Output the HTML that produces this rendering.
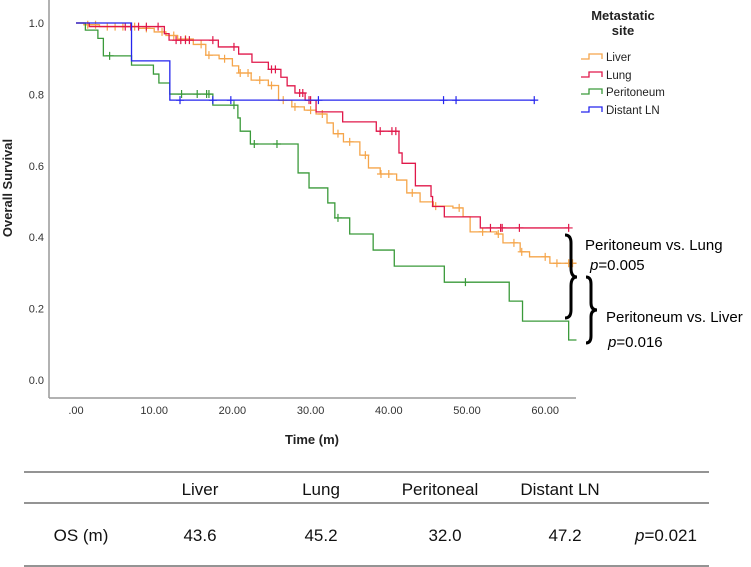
<!DOCTYPE html>
<html><head><meta charset="utf-8"><style>
body{margin:0;background:#fff;width:751px;height:567px;overflow:hidden;font-family:"Liberation Sans",sans-serif}
svg{position:absolute;left:0;top:0}
</style></head><body>
<svg id="chart" width="751" height="567">
<g id="axes"></g>
<g id="series"></g>
<g font-size="11.5" fill="#222">
<text x="623" y="20" text-anchor="middle" font-weight="bold" font-size="13">Metastatic</text>
<text x="623" y="35" text-anchor="middle" font-weight="bold" font-size="13">site</text>
<g><path d="M581 59H589V54H602V59" stroke="#f5a54a" fill="none" stroke-width="1.3"/><text x="606" y="61">Liver</text></g>
<g><path d="M581 77H589V72H602V77" stroke="#e0184a" fill="none" stroke-width="1.3"/><text x="606" y="79">Lung</text></g>
<g><path d="M581 94H589V89H602V94" stroke="#3a9a3a" fill="none" stroke-width="1.3"/><text x="606" y="96">Peritoneum</text></g>
<g><path d="M581 112H589V107H602V112" stroke="#2525ee" fill="none" stroke-width="1.3"/><text x="606" y="114">Distant LN</text></g>
</g>
<g fill="#000">
<path d="M565 235 Q571 235 571 243 L571 268 Q571 277 577 277 Q571 277 571 286 L571 310 Q571 318 565 318" fill="none" stroke="#000" stroke-width="3"/>
<text x="585" y="250" font-size="15">Peritoneum vs. Lung</text>
<text x="590" y="270" font-size="15"><tspan font-style="italic">p</tspan>=0.005</text>
<path d="M586 277 Q591 277 591 284 L591 303 Q591 310 597 310 Q591 310 591 317 L591 336 Q591 343 586 343" fill="none" stroke="#000" stroke-width="3"/>
<text x="606" y="322" font-size="15">Peritoneum vs. Liver</text>
<text x="608" y="347" font-size="15"><tspan font-style="italic">p</tspan>=0.016</text>
</g>
<g font-size="17" fill="#111" text-anchor="middle">
<line x1="24" y1="472" x2="709" y2="472" stroke="#555" stroke-width="1.3"/>
<line x1="24" y1="503" x2="709" y2="503" stroke="#555" stroke-width="1.3"/>
<line x1="24" y1="566" x2="709" y2="566" stroke="#555" stroke-width="1.3"/>
<text x="200" y="495">Liver</text>
<text x="321" y="495">Lung</text>
<text x="440" y="495">Peritoneal</text>
<text x="560" y="495">Distant LN</text>
<text x="81" y="541">OS (m)</text>
<text x="200" y="541">43.6</text>
<text x="321" y="541">45.2</text>
<text x="445" y="541">32.0</text>
<text x="565" y="541">47.2</text>
<text x="666" y="541"><tspan font-style="italic">p</tspan>=0.021</text>
</g>
</svg>
<script>
const xTicks=[0,10,20,30,40,50,60];
const xTickLabels=[".00","10.00","20.00","30.00","40.00","50.00","60.00"];
const yTicks=[0,0.2,0.4,0.6,0.8,1.0];
const yTickLabels=["0.0","0.2","0.4","0.6","0.8","1.0"];
const liverT=[0,1,3,8,10,11.5,13,15,16.6,18.3,20,20.8,22.4,24.6,25.9,27.6,29.2,30.7,32.1,32.9,34.2,36.3,37.4,38.9,41,42.3,44,45.7,48.2,49.5,50.4,53.8,54.6,56.8,58,60.6];
const liverS=[1,0.995,0.99,0.985,0.975,0.965,0.955,0.94,0.91,0.9,0.88,0.86,0.84,0.825,0.784,0.765,0.756,0.745,0.72,0.69,0.667,0.63,0.594,0.577,0.56,0.524,0.499,0.487,0.482,0.457,0.415,0.409,0.384,0.359,0.345,0.327];
const liverEnd=64;
const liverC=[1.5,2.5,4,5,6,7.5,9,11,12.5,14,16,17,19,21,22,23.5,25,26.5,28,30,31.5,33.5,35,37,39,40,43,46,49,52,54,56,57,60,61.5,63,63.5];
const lungT=[0,1.7,11.3,11.9,18.2,20.8,22.5,24.6,26.2,27,28,29.3,30.7,34.1,38.4,41.3,41.7,43.4,45.4,45.6,47.1,51.7];
const lungS=[1,0.99,0.97,0.952,0.933,0.913,0.89,0.87,0.848,0.824,0.804,0.784,0.751,0.723,0.697,0.636,0.607,0.544,0.514,0.486,0.457,0.426];
const lungEnd=63;
const lungC=[6.3,7,8,9,10.5,12.8,13.4,14,14.5,17.5,20.2,25,25.5,28.6,29,29.8,30,38.9,40.4,40.9,53,54.3,54.5,56.7,63];
const periT=[0,1.2,2.8,3.5,7.1,9.9,10.6,12,17.5,20.7,21,22.3,28.4,29.8,32.2,33.1,35,38,40.7,47.1,55.4,57.1,63];
const periS=[1,0.98,0.957,0.908,0.882,0.857,0.832,0.801,0.77,0.734,0.697,0.661,0.58,0.538,0.496,0.454,0.409,0.364,0.319,0.274,0.221,0.165,0.112];
const periEnd=64;
const periC=[4.3,13.5,15.5,16.7,17,20.2,22.8,25.7,33.5,49.8];
const lnT=[0,7.1,12];
const lnS=[1,0.894,0.784];
const lnEnd=58.6;
const lnC=[13.3,17.5,19.8,31,47,48.6,58.6];

const X=t=>76+7.82*t, Y=v=>380-357*v;
const NS="http://www.w3.org/2000/svg";
function mk(tag,attrs,parent){const e=document.createElementNS(NS,tag);for(const k in attrs)e.setAttribute(k,attrs[k]);parent.appendChild(e);return e;}
const axes=document.getElementById('axes'), ser=document.getElementById('series');
const ya=mk('line',{x1:49,y1:0,x2:49,y2:398,stroke:'#999','stroke-width':1.5},axes);


const xa=mk('line',{x1:49,y1:398,x2:576,y2:398,stroke:'#999','stroke-width':1.5},axes);


yTicks.forEach((v,i)=>{const t=mk('text',{x:44,y:Y(v)+4,'text-anchor':'end','font-size':11,fill:'#333'},axes);t.textContent=yTickLabels[i];

});
xTicks.forEach((v,i)=>{const t=mk('text',{x:X(v),y:414,'text-anchor':'middle','font-size':11,fill:'#333'},axes);t.textContent=xTickLabels[i];

});
const xt=mk('text',{x:312,y:444,'text-anchor':'middle','font-size':13,'font-weight':'bold',fill:'#222'},axes);xt.textContent='Time (m)';


const yt=mk('text',{x:0,y:0,'text-anchor':'middle','font-size':13,'font-weight':'bold',fill:'#222',transform:'translate(12,188) rotate(-90)'},axes);yt.textContent='Overall Survival';


function sAt(T,S,t){let v=S[0];for(let i=0;i<T.length;i++)if(T[i]<=t)v=S[i];return v;}
function draw(T,S,end,C,color,name){
  let d=`M${X(T[0])} ${Y(S[0])}`;
  for(let i=1;i<T.length;i++)d+=`H${X(T[i])}V${Y(S[i])}`;
  d+=`H${X(end)}`;
  const p=mk('path',{d:d,fill:'none',stroke:color,'stroke-width':1.3},ser);
  
  
  C.forEach(c=>{const x=X(c),y=Y(sAt(T,S,c));
    const m=mk('path',{d:`M${x} ${y-4}V${y+4}M${x-4} ${y}H${x+4}`,stroke:color,'stroke-width':1.2},ser);
    
    });
}
draw(liverT,liverS,liverEnd,liverC,'#f5a54a','liver');
draw(periT,periS,periEnd,periC,'#3a9a3a','peritoneum');
draw(lungT,lungS,lungEnd,lungC,'#e0184a','lung');
draw(lnT,lnS,lnEnd,lnC,'#2525ee','distant-ln');
</script>
</body></html>
